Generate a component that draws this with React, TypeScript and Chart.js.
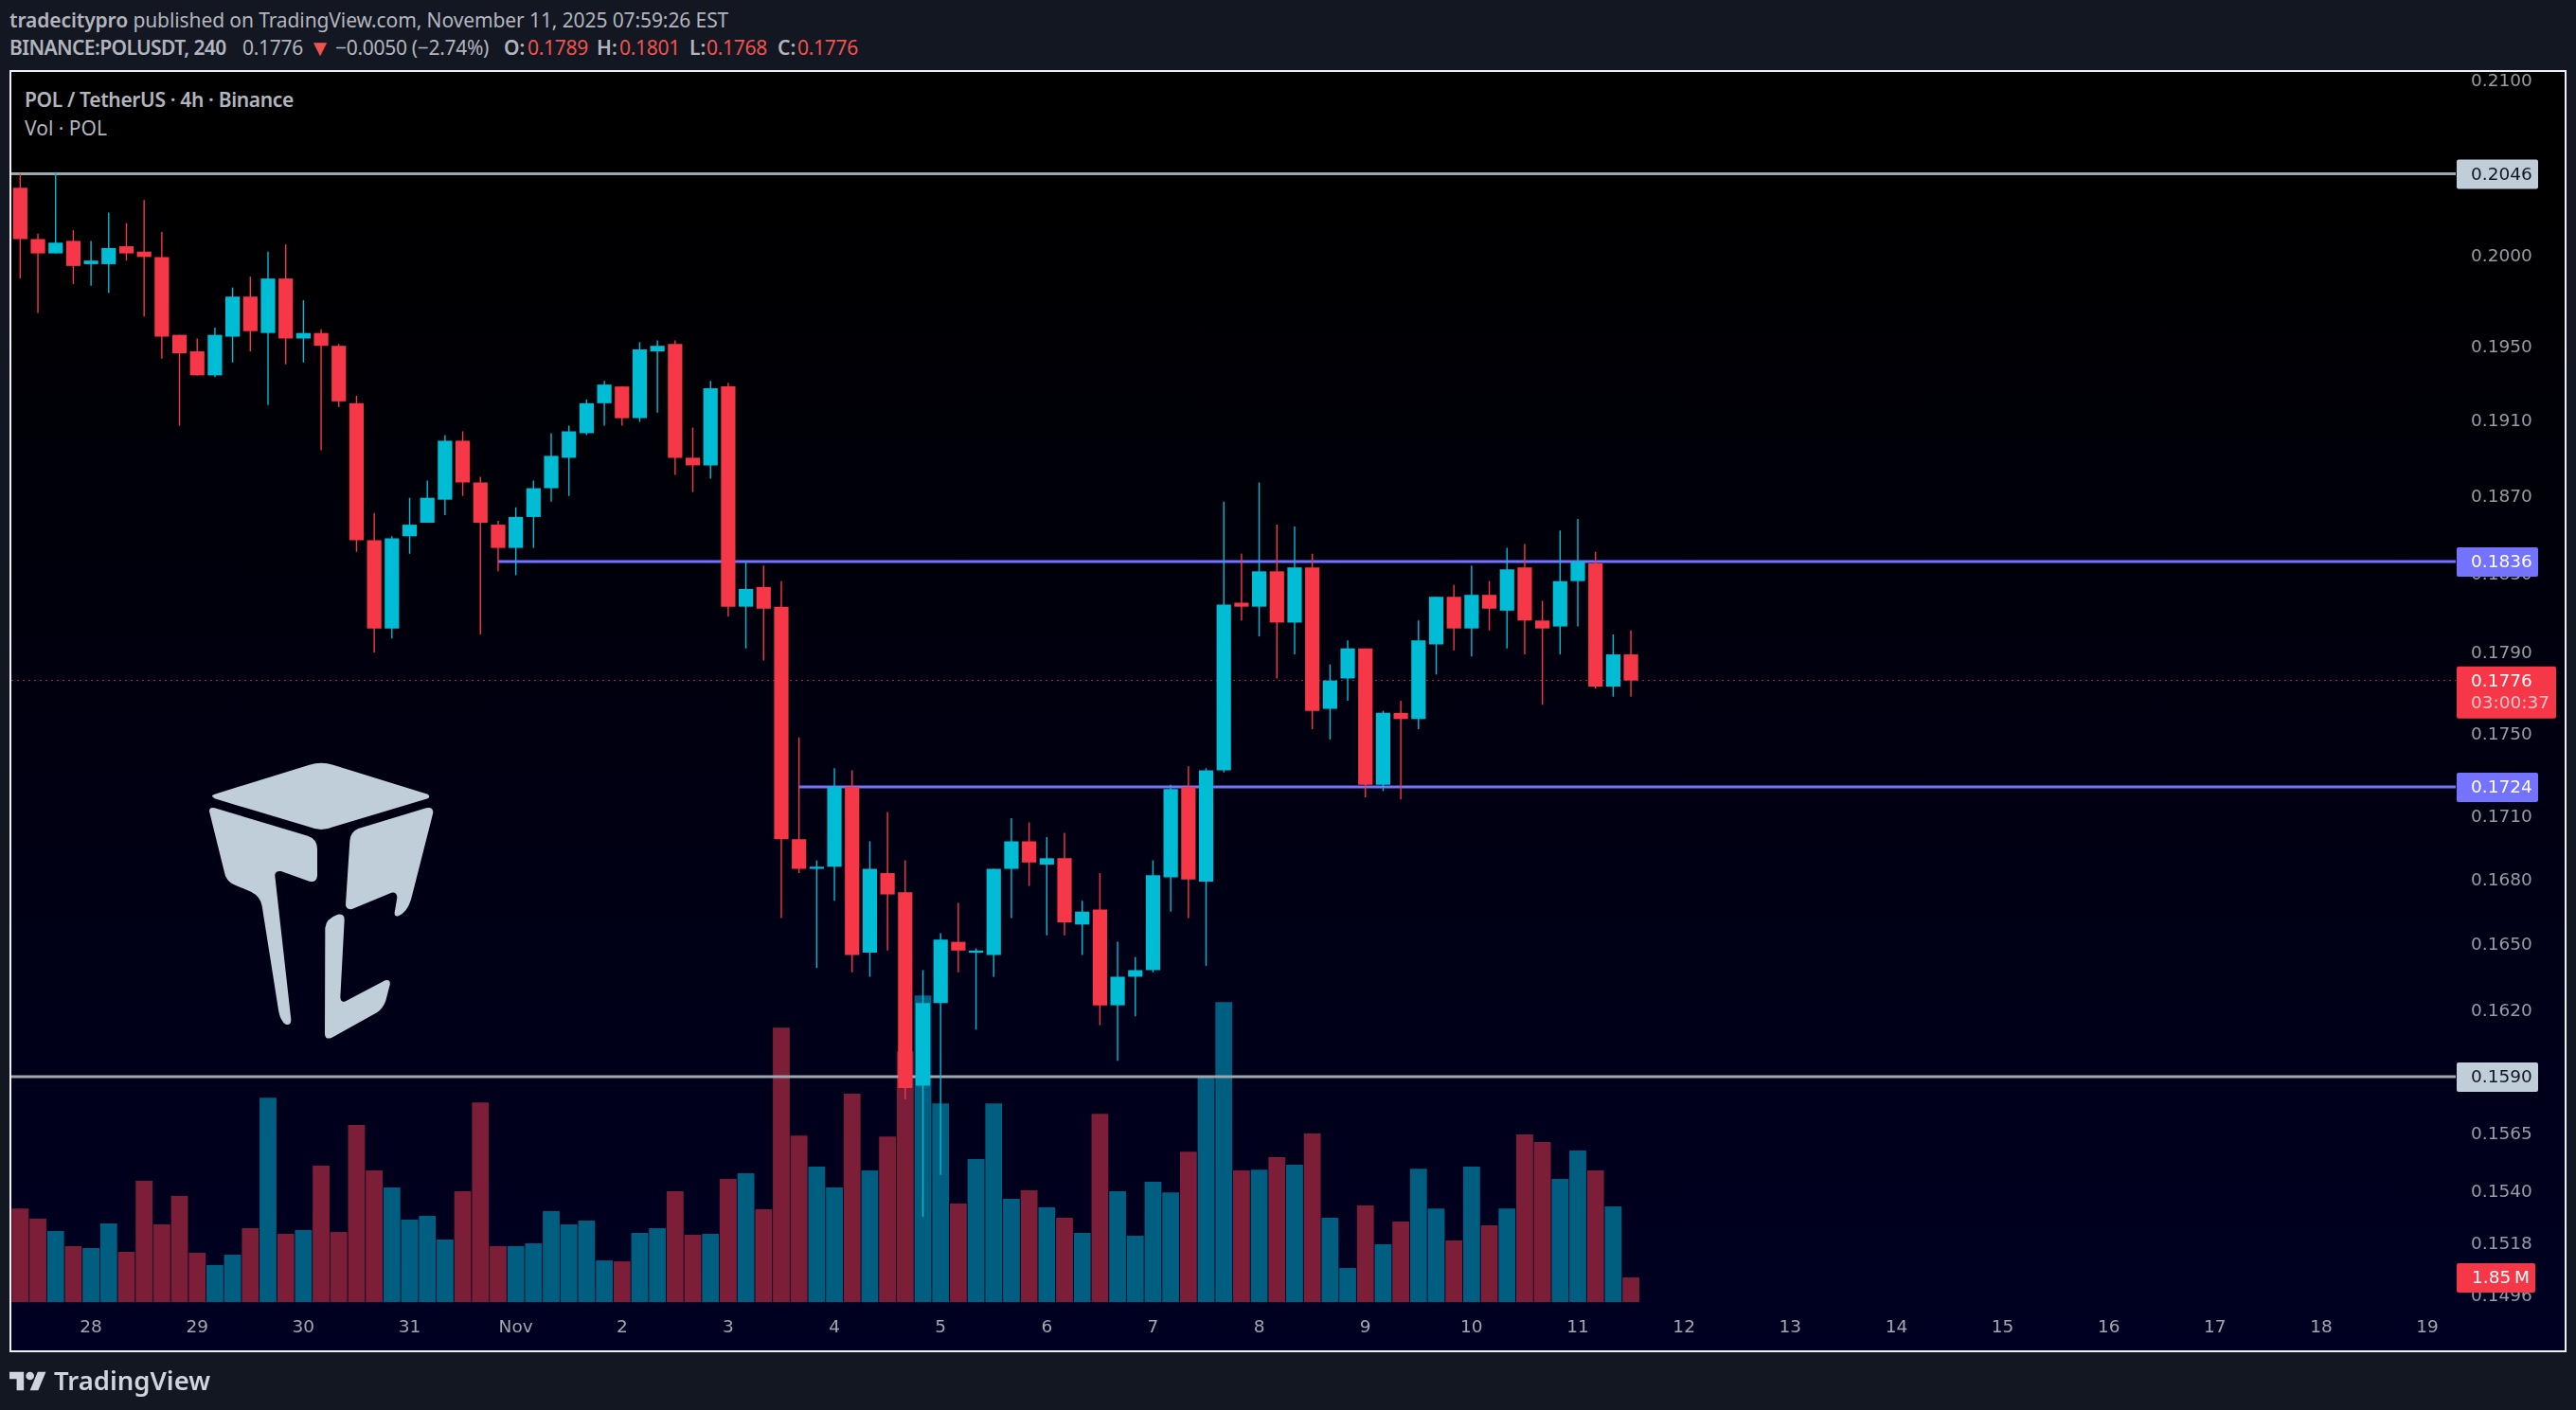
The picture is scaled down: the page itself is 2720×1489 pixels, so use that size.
import { useEffect, useRef } from 'react';
import Chart from 'chart.js/auto';

const opens = [
  0.2038, 0.2009, 0.2001, 0.2008, 0.1995, 0.1995, 0.2005, 0.2002, 0.1999, 0.1956, 0.1947, 0.1934,
  0.1955, 0.1977, 0.1957, 0.1987, 0.1954, 0.1957, 0.1950, 0.1919, 0.1847, 0.1802, 0.1849, 0.1856,
  0.1868, 0.1899, 0.1877, 0.1855, 0.1843, 0.1859, 0.1874, 0.1890, 0.1903, 0.1919, 0.1928, 0.1911,
  0.1947, 0.1951, 0.1890, 0.1886, 0.1928, 0.1813, 0.1823, 0.1813, 0.1699, 0.1685, 0.1686, 0.1724,
  0.1646, 0.1683, 0.1674, 0.1586, 0.1623, 0.1651, 0.1646, 0.1645, 0.1685, 0.1698, 0.1687, 0.1690,
  0.1659, 0.1666, 0.1622, 0.1635, 0.1638, 0.1681, 0.1724, 0.1679, 0.1732, 0.1815, 0.1813, 0.1831,
  0.1805, 0.1833, 0.1762, 0.1777, 0.1792, 0.1725, 0.1760, 0.1757, 0.1794, 0.1818, 0.1802, 0.1819,
  0.1811, 0.1833, 0.1806, 0.1803, 0.1826, 0.1835, 0.1773, 0.1789,
];
const highs = [
  0.2046, 0.2012, 0.2047, 0.2014, 0.2008, 0.2024, 0.2018, 0.2031, 0.2013, 0.1956, 0.1954, 0.1960,
  0.1982, 0.1988, 0.2002, 0.2006, 0.1975, 0.1959, 0.1951, 0.1923, 0.1861, 0.1849, 0.1869, 0.1878,
  0.1902, 0.1904, 0.1880, 0.1857, 0.1864, 0.1878, 0.1903, 0.1907, 0.1921, 0.1931, 0.1928, 0.1952,
  0.1953, 0.1953, 0.1906, 0.1931, 0.1930, 0.1836, 0.1834, 0.1826, 0.1748, 0.1689, 0.1733, 0.1732,
  0.1698, 0.1712, 0.1689, 0.1638, 0.1655, 0.1669, 0.1648, 0.1685, 0.1709, 0.1707, 0.1700, 0.1702,
  0.1670, 0.1683, 0.1651, 0.1644, 0.1689, 0.1725, 0.1734, 0.1733, 0.1867, 0.1840, 0.1877, 0.1855,
  0.1854, 0.1840, 0.1784, 0.1796, 0.1792, 0.1761, 0.1766, 0.1806, 0.1818, 0.1824, 0.1834, 0.1826,
  0.1843, 0.1845, 0.1816, 0.1852, 0.1858, 0.1841, 0.1799, 0.1801,
];
const lows = [
  0.1987, 0.1968, 0.2001, 0.1984, 0.1983, 0.1979, 0.1997, 0.1966, 0.1943, 0.1907, 0.1934, 0.1933,
  0.1941, 0.1947, 0.1918, 0.1940, 0.1941, 0.1894, 0.1917, 0.1841, 0.1790, 0.1797, 0.1840, 0.1856,
  0.1860, 0.1870, 0.1799, 0.1831, 0.1829, 0.1843, 0.1867, 0.1870, 0.1902, 0.1907, 0.1907, 0.1909,
  0.1914, 0.1881, 0.1872, 0.1879, 0.1808, 0.1792, 0.1786, 0.1662, 0.1683, 0.1639, 0.1670, 0.1637,
  0.1635, 0.1647, 0.1580, 0.1529, 0.1547, 0.1637, 0.1611, 0.1635, 0.1662, 0.1677, 0.1654, 0.1654,
  0.1645, 0.1613, 0.1597, 0.1617, 0.1637, 0.1665, 0.1662, 0.1640, 0.1731, 0.1806, 0.1798, 0.1777,
  0.1789, 0.1752, 0.1747, 0.1766, 0.1719, 0.1722, 0.1718, 0.1752, 0.1779, 0.1791, 0.1788, 0.1801,
  0.1792, 0.1789, 0.1764, 0.1789, 0.1803, 0.1772, 0.1768, 0.1768,
];
const closes = [
  0.2009, 0.2001, 0.2007, 0.1994, 0.1997, 0.2004, 0.2001, 0.1999, 0.1955, 0.1946, 0.1934, 0.1956,
  0.1977, 0.1958, 0.1987, 0.1954, 0.1957, 0.1950, 0.1920, 0.1847, 0.1802, 0.1848, 0.1855, 0.1869,
  0.1899, 0.1877, 0.1856, 0.1843, 0.1859, 0.1874, 0.1891, 0.1904, 0.1919, 0.1929, 0.1911, 0.1948,
  0.1950, 0.1890, 0.1886, 0.1927, 0.1813, 0.1822, 0.1812, 0.1699, 0.1685, 0.1686, 0.1724, 0.1645,
  0.1685, 0.1673, 0.1585, 0.1623, 0.1652, 0.1647, 0.1647, 0.1685, 0.1698, 0.1688, 0.1690, 0.1660,
  0.1665, 0.1622, 0.1635, 0.1638, 0.1682, 0.1723, 0.1680, 0.1732, 0.1814, 0.1813, 0.1831, 0.1805,
  0.1833, 0.1761, 0.1776, 0.1792, 0.1725, 0.1760, 0.1757, 0.1796, 0.1818, 0.1802, 0.1819, 0.1812,
  0.1832, 0.1806, 0.1802, 0.1826, 0.1836, 0.1773, 0.1789, 0.1776,
];
// volume in millions of POL
const volumes = [
  7.04, 6.26, 5.34, 4.2, 4.06, 5.91, 3.77, 9.11, 5.84, 7.97, 3.7, 2.78,
  3.56, 5.55, 15.37, 5.12, 5.41, 10.25, 5.27, 13.31, 9.89, 8.61, 6.19, 6.48,
  4.7, 8.33, 15.01, 4.2, 4.2, 4.41, 6.83, 5.84, 6.12, 3.13, 3.06, 5.19,
  5.55, 8.33, 5.05, 5.12, 9.25, 9.68, 6.97, 20.64, 12.52, 10.18, 8.61, 15.66,
  9.89, 12.45, 18.86, 23.06, 14.94, 7.4, 10.75, 14.94, 7.76, 8.4, 7.12, 6.33,
  5.19, 14.16, 8.33, 4.98, 9.04, 8.25, 11.31, 17.01, 22.56, 9.89, 9.96, 10.89,
  10.32, 12.67, 6.33, 2.56, 7.26, 4.34, 6.05, 10.03, 7.04, 4.63, 10.18, 5.76,
  7.04, 12.6, 12.03, 9.25, 11.39, 9.89, 7.19, 1.85,
];

// bar slot of each day label on the time axis
const dayIndexes = [4, 10, 16, 22, 28, 34, 40, 46, 52, 58, 64, 70, 76, 82, 88, 94, 100, 106, 112, 118, 124, 130, 136];
const dayLabels = ['28', '29', '30', '31', 'Nov', '2', '3', '4', '5', '6', '7', '8', '9', '10', '11', '12', '13', '14', '15', '16', '17', '18', '19'];

const priceTicks = [0.21, 0.2, 0.195, 0.191, 0.187, 0.183, 0.179, 0.175, 0.171, 0.168, 0.165, 0.162, 0.159, 0.1565, 0.154, 0.1518, 0.1496];

// horizontal levels drawn by the author
const levelPrices = [0.2046, 0.1836, 0.1724, 0.159];
const levelStarts = [-0.5, 27, 44, -0.5];
const levelColors = ['#9ca8ae', '#7373ff', '#7373ff', '#9ca8ae'];
const levelLabelColors = ['#bfced8', '#7373ff', '#7373ff', '#bfced8'];
const levelTextColors = ['#131722', '#ffffff', '#ffffff', '#131722'];

const lastPrice = 0.1776;
const lastVolume = 1.85;

const UP = '#00bcd4';
const DOWN = '#f53748';
const VOL_UP = '#005f80';
const VOL_DOWN = '#7c1e37';
const AXIS_FONT = '"DejaVu Sans", sans-serif';
const UI_FONT = '"Noto Sans", sans-serif';
const X_MIN = -0.5;
const X_MAX = 137.6;

const isUp = closes.map((c, i) => c >= opens[i]);

function roundBox(ctx: CanvasRenderingContext2D, x: number, y: number, w: number, h: number, color: string) {
  ctx.fillStyle = color;
  ctx.beginPath();
  ctx.roundRect(x, y, w, h, 2);
  ctx.fill();
}

const priceLabels = {
  id: 'priceLabels',
  afterDraw(chart: any) {
    const { ctx, scales } = chart;
    const left = chart.chartArea.right + 1;
    ctx.save();
    ctx.textBaseline = 'middle';
    ctx.font = `18.5px ${AXIS_FONT}`;
    levelPrices.forEach((price, i) => {
      const y = scales.y.getPixelForValue(price);
      roundBox(ctx, left, y - 15, 86, 31, levelLabelColors[i]);
      ctx.fillStyle = levelTextColors[i];
      ctx.fillText(price.toFixed(4), left + 15, y + 1.5);
    });
    const py = scales.y.getPixelForValue(lastPrice);
    roundBox(ctx, left, py - 15, 105, 55, DOWN);
    ctx.fillStyle = '#ffffff';
    ctx.fillText(lastPrice.toFixed(4), left + 15, py + 1.5);
    ctx.fillStyle = '#fdc3c9';
    ctx.fillText('03:00:37', left + 15, py + 24.5);
    const vy = scales.vol.getPixelForValue(lastVolume);
    roundBox(ctx, left, vy - 15, 83, 31, DOWN);
    ctx.fillStyle = '#ffffff';
    ctx.fillText(`${lastVolume}\u2009M`, left + 16, vy + 1.5);
    ctx.restore();
  },
};

function Text({ x, y, size = 21, bold, color = '#b2b5be', spacing = 0, children }: any) {
  return (
    <span
      style={{
        position: 'absolute',
        left: x,
        top: y,
        transform: 'translateY(-50%)',
        fontFamily: UI_FONT,
        fontSize: size,
        fontWeight: bold ? 600 : 400,
        letterSpacing: spacing,
        color,
        whiteSpace: 'pre',
        lineHeight: 1,
      }}
    >
      {children}
    </span>
  );
}

function Logo() {
  return (
    <svg style={{ position: 'absolute', left: 180, top: 760 }} width={320} height={360} viewBox="0 0 960 1080" fill="#bfced8">
      <path d="M132 243Q130 240 140 236L440 143Q478 132 515 143L815 236Q825 243 815 250L515 340Q478 356 440 340L140 250Z" />
      <path d="M123 290Q123 275 140 280L435 368Q465 378 465 410L465 495Q462 518 440 512L350 480Q330 478 331 495L382 950Q382 970 365 965Q348 955 342 920L290 590Q285 560 255 545L200 522Q175 510 170 480Z" />
      <path d="M568 385Q570 355 595 345L810 280Q832 275 832 295L762 570Q750 610 722 622Q708 625 710 610L718 565Q718 545 700 548L575 600Q555 603 555 585Z" />
      <path d="M490 660Q492 630 530 617Q552 615 551 635L538 880Q540 898 555 892L680 826Q698 822 695 840L682 890Q672 918 650 930L510 1008Q490 1015 489 995Z" />
    </svg>
  );
}

export default function App() {
  const canvasRef = useRef<HTMLCanvasElement>(null);

  useEffect(() => {
    document.body.style.margin = '0';
    document.body.style.background = '#131722';
    if (!canvasRef.current) return;

    const candleColors = isUp.map((up) => (up ? UP : DOWN));
    const volumeColors = isUp.map((up) => (up ? VOL_UP : VOL_DOWN));

    const levelSets = levelPrices.map((price, i) => ({
      type: 'line',
      data: [{ x: levelStarts[i], y: price }, { x: X_MAX, y: price }],
      borderColor: levelColors[i],
      borderWidth: 2.8,
      pointRadius: 0,
      yAxisID: 'y',
      order: 4,
    }));

    const chart = new Chart(canvasRef.current, {
      type: 'bar',
      data: {
        datasets: [
          {
            data: volumes.map((v, i) => ({ x: i, y: v })),
            backgroundColor: volumeColors,
            barThickness: 17.8,
            grouped: false,
            inflateAmount: 0,
            yAxisID: 'vol',
            order: 5,
          },
          ...levelSets,
          {
            type: 'line',
            data: [{ x: X_MIN, y: lastPrice }, { x: X_MAX, y: lastPrice }],
            borderColor: 'rgba(245,55,72,0.75)',
            borderWidth: 1,
            borderDash: [2, 4],
            pointRadius: 0,
            yAxisID: 'y',
            order: 3,
          },
          {
            data: lows.map((low, i) => ({ x: i, y: [low, highs[i]] })),
            backgroundColor: candleColors,
            barThickness: 1.4,
            grouped: false,
            inflateAmount: 0,
            yAxisID: 'y',
            order: 2,
          },
          {
            data: opens.map((o, i) => ({ x: i, y: [o, closes[i]] })),
            backgroundColor: candleColors,
            barThickness: 15.2,
            grouped: false,
            inflateAmount: 0,
            minBarLength: 2,
            yAxisID: 'y',
            order: 1,
          },
        ] as any,
      },
      options: {
        responsive: false,
        devicePixelRatio: 1,
        animation: false,
        layout: { padding: { left: 12, right: 12, top: 76, bottom: 64 } },
        plugins: { legend: { display: false }, tooltip: { enabled: false } },
        scales: {
          x: {
            type: 'linear',
            min: X_MIN,
            max: X_MAX,
            offset: false,
            grid: { display: false, drawTicks: false, offset: false },
            border: { display: false },
            afterBuildTicks: (axis: any) => {
              axis.ticks = dayIndexes.map((value) => ({ value }));
            },
            afterFit: (axis: any) => {
              axis.height = 50;
            },
            ticks: {
              autoSkip: false,
              maxRotation: 0,
              padding: 16,
              color: '#a3a6af',
              font: { family: AXIS_FONT, size: 18.5 },
              callback: (value: any) => dayLabels[dayIndexes.indexOf(value)] ?? '',
            },
          },
          y: {
            type: 'logarithmic',
            position: 'right',
            min: 0.1493,
            max: 0.2105,
            grid: { display: false, drawTicks: false },
            border: { display: false },
            afterBuildTicks: (axis: any) => {
              axis.ticks = priceTicks.map((value) => ({ value }));
            },
            afterFit: (axis: any) => {
              axis.width = 115;
            },
            ticks: {
              autoSkip: false,
              padding: 16,
              labelOffset: 1.5,
              color: '#999ca4',
              font: { family: AXIS_FONT, size: 18.5 },
              callback: (value: any) => Number(value).toFixed(4),
            },
          },
          vol: {
            type: 'linear',
            display: false,
            min: 0,
            max: 92.5,
          },
        },
      } as any,
      plugins: [priceLabels],
    });

    return () => chart.destroy();
  }, []);

  return (
    <div style={{ position: 'relative', width: 2720, height: 1489, background: '#131722', overflow: 'hidden' }}>
      <Text x={10} y={21} spacing={-0.1}><b style={{ fontWeight: 600 }}>tradecitypro</b> published on TradingView.com, November 11, 2025 07:59:26 EST</Text>
      <Text x={10} y={50} bold spacing={-0.6}>BINANCE:POLUSDT, 240</Text>
      <Text x={256} y={50} spacing={-0.3}>0.1776</Text>
      <Text x={326} y={50} size={24} color="#ef5350">▼</Text>
      <Text x={354} y={50} spacing={-0.3}>−0.0050 (−2.74%)</Text>
      <Text x={532} y={50} bold>O:</Text>
      <Text x={557} y={50} spacing={-0.3} color="#ef5350">0.1789</Text>
      <Text x={630} y={50} bold>H:</Text>
      <Text x={654} y={50} spacing={-0.3} color="#ef5350">0.1801</Text>
      <Text x={728} y={50} bold>L:</Text>
      <Text x={746} y={50} spacing={-0.3} color="#ef5350">0.1768</Text>
      <Text x={821} y={50} bold>C:</Text>
      <Text x={842} y={50} spacing={-0.3} color="#ef5350">0.1776</Text>

      <div
        style={{
          position: 'absolute',
          left: 10,
          top: 74,
          width: 2700,
          height: 1354,
          boxSizing: 'border-box',
          border: '2px solid #eef0f4',
          background: 'linear-gradient(#000000 0%, #000000 8%, #000022 100%)',
        }}
      />
      <Logo />
      <Text x={26} y={105} bold spacing={-0.35}>POL / TetherUS · 4h · Binance</Text>
      <Text x={26} y={135}>Vol · POL</Text>

      <canvas ref={canvasRef} width={2720} height={1489} style={{ position: 'absolute', left: 0, top: 0 }} />

      <svg style={{ position: 'absolute', left: 10, top: 1447 }} width={39} height={25} viewBox="0 4 36 20" fill="#d1d4dc">
        <path d="M14 22H7V11H0V4h14v18zM28 22h-8l7.5-18h8L28 22z" />
        <circle cx={20} cy={8} r={4} />
      </svg>
      <Text x={57} y={1458} size={27.5} bold color="#d1d4dc">TradingView</Text>
    </div>
  );
}
